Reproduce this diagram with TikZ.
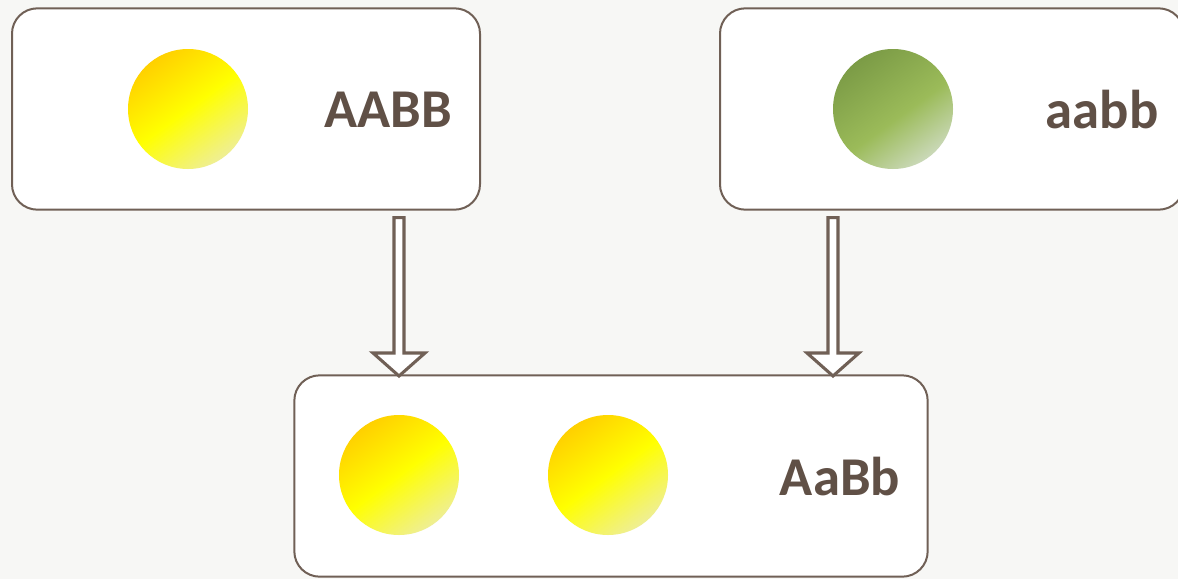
\documentclass[tikz,border=0pt]{standalone}
\usepackage{fontspec}
\setmainfont{Carlito}
\usetikzlibrary{calc}
\definecolor{paper}{RGB}{247,247,245}
\definecolor{edge}{RGB}{112,96,86}
\definecolor{ink}{RGB}{96,80,70}
% 两种种子颜色的渐变
\pgfdeclarehorizontalshading{yellowseed}{100bp}{color(0bp)=(rgb,255:red,255;green,208;blue,0); color(25bp)=(rgb,255:red,255;green,208;blue,0); color(50bp)=(rgb,255:red,255;green,255;blue,0); color(76bp)=(rgb,255:red,238;green,238;blue,155); color(100bp)=(rgb,255:red,238;green,238;blue,155)}
\pgfdeclarehorizontalshading{greenseed}{100bp}{color(0bp)=(rgb,255:red,120;green,152;blue,68); color(22bp)=(rgb,255:red,120;green,152;blue,68); color(54bp)=(rgb,255:red,155;green,187;blue,89); color(80bp)=(rgb,255:red,214;green,224;blue,208); color(100bp)=(rgb,255:red,214;green,224;blue,208)}
\tikzset{
    box/.style={draw=edge, line width=1.5pt, fill=white, rounded corners=19pt, minimum height=151pt}, % 圆角框
    seed/.style={circle, minimum size=90pt, inner sep=0pt, shading angle=-54}, % 种子
    gene/.style={text=ink, font=\bfseries\fontsize{41}{48}\selectfont}, % 基因型
    blockarrow/.style={draw=edge, line width=2.3pt, fill=white, to path={
        ($(\tikztostart)+(-5,0)$) -- ($(\tikztotarget)+(-5,-23)$) -- ($(\tikztotarget)+(-26,-23)$) -- (\tikztotarget)
        -- ($(\tikztotarget)+(26,-23)$) -- ($(\tikztotarget)+(5,-23)$) -- ($(\tikztostart)+(5,0)$) -- cycle}}
}
\begin{document}
\begin{tikzpicture}[x=0.75pt, y=-0.75pt]
            \useasboundingbox[fill=paper] (0,0) rectangle (1178,579);

            % 亲本
            \node[box, minimum width=351pt] (p1) at (246,109) {};
            \node[box, minimum width=348pt] (p2) at (952,109) {};
            \node[seed, shading=yellowseed] (s1) at (188,109) {};
            \node[seed, shading=greenseed] (s2) at (893,109) {};
            \node[gene] (g1) at (388,110) {AABB};
            \node[gene] (g2) at (1102,110) {aabb};

            % 子一代
            \node[box, minimum width=475pt] (f1) at (611,476) {};
            \node[seed, shading=yellowseed] (s3) at (399,475) {};
            \node[seed, shading=yellowseed] (s4) at (608,475) {};
            \node[gene] (g3) at (840,477) {AaBb};

            \coordinate (a1) at (399,376);
            \coordinate (a2) at (833,376);
            \draw[blockarrow] (p1.south -| a1) ++(0,7) to (a1);
            \draw[blockarrow] (p2.south -| a2) ++(0,7) to (a2);
        \end{tikzpicture}
\end{document}
